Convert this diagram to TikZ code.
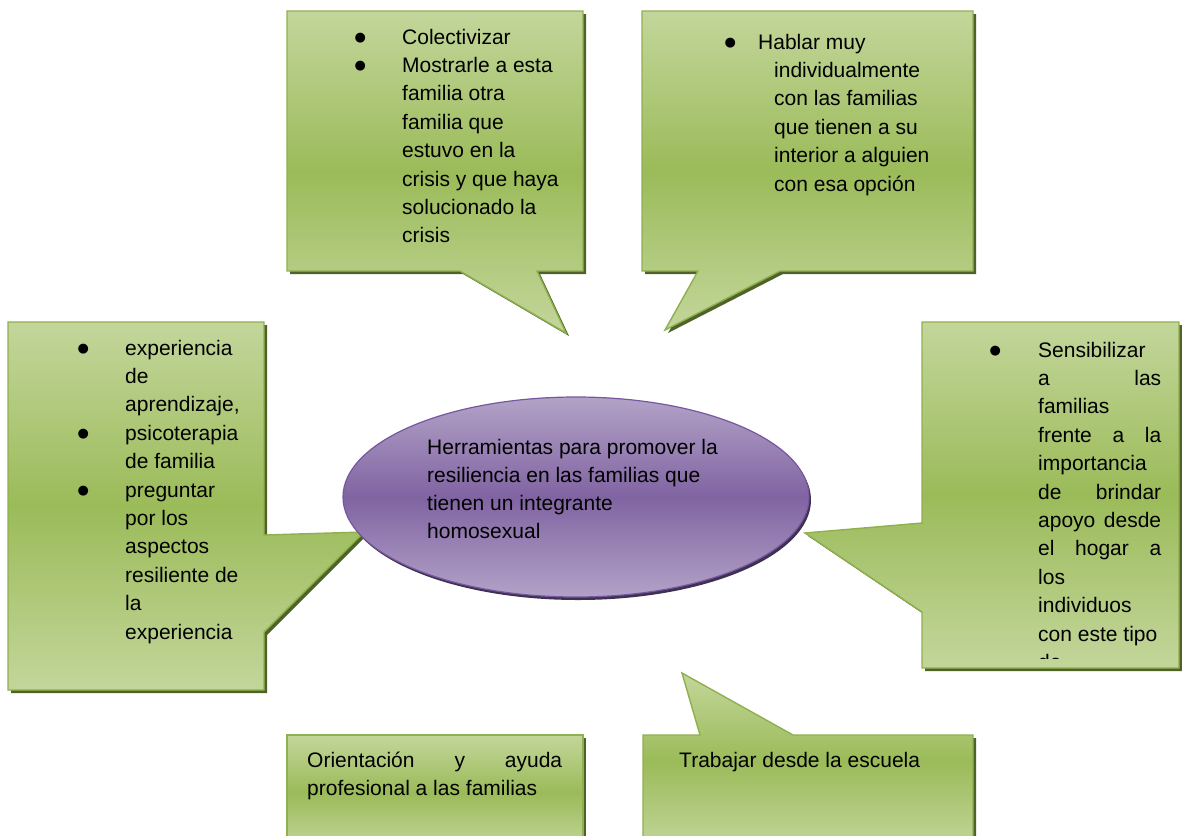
\documentclass[tikz,border=0pt]{standalone}
\usepackage{fontspec}
\setmainfont{Liberation Sans}
\newfontfamily\bulfont{DejaVu Sans}
\usetikzlibrary{shapes.geometric}
\definecolor{gLight}{HTML}{C3D69B}
\definecolor{gDark}{HTML}{9BBB59}
\definecolor{gEdge}{HTML}{8FB04F}
\definecolor{gShadow}{HTML}{4F6228}
\definecolor{pLight}{HTML}{B3A2C7}
\definecolor{pDark}{HTML}{8064A2}
\definecolor{pEdge}{HTML}{7657A0}
\definecolor{pShadow}{HTML}{3F3151}
\tikzset{
  cbody/.style={draw=gEdge, line width=1.4pt, line join=miter, top color=gLight, bottom color=gLight, middle color=gDark},
  cshadow/.style={fill=gShadow, shift={(3,3)}},
  ctext/.style={anchor=base west, inner sep=0pt, font=\fontsize{21}{28.4}\selectfont},
}
\newcommand{\calloutshape}[1]{\fill[cshadow] #1; \shadedraw[cbody] #1;}
\newcommand{\bul}[1]{\leavevmode\llap{\makebox[#1][l]{\makebox[0pt][c]{\raisebox{2.5pt}{\bulfont\fontsize{13}{13}\selectfont ●}}}}}
\begin{document}
\begin{tikzpicture}[x=1pt,y=-1pt]
\useasboundingbox (0,0) rectangle (1182,835);
% callouts
\calloutshape{(287,11) -- (583,11) -- (583,271) -- (537,271) -- (566,333) -- (460,271) -- (287,271) -- cycle}
\calloutshape{(642,11) -- (973,11) -- (973,271) -- (780,271) -- (665,330) -- (698,271) -- (642,271) -- cycle}
\calloutshape{(8,322) -- (264,322) -- (264,535) -- (364,532) -- (264,632) -- (264,690) -- (8,690) -- cycle}
\calloutshape{(922,322) -- (1179,322) -- (1179,668) -- (922,668) -- (922,612) -- (805,533) -- (922,523) -- cycle}
\calloutshape{(287,735) -- (583,735) -- (583,850) -- (287,850) -- cycle}
\calloutshape{(643,735) -- (700,735) -- (682,673) -- (793,735) -- (973,735) -- (973,850) -- (643,850) -- cycle}
% central ellipse
\node[ellipse, minimum width=466pt, minimum height=200pt, inner sep=0pt, fill=pShadow] (hubshadow) at (578,500) {};
\node[ellipse, minimum width=466pt, minimum height=200pt, inner sep=0pt, draw=pEdge, line width=1.2pt,
      top color=pLight, bottom color=pLight, middle color=pDark] (hub) at (576,497) {};
\node[ctext] (hubtext) at (427,454) {\parbox[t]{320pt}{\fontsize{21}{28}\selectfont
  Herramientas para promover la\\ resiliencia en las familias que\\ tienen un integrante\\ homosexual}};
% texts
\node[ctext] (t1) at (402,44) {\parbox[t]{200pt}{\bul{42pt}Colectivizar\\
  \bul{42pt}Mostrarle a esta\\ familia otra\\ familia que\\ estuvo en la\\ crisis y que haya\\ solucionado la\\ crisis}};
\node[ctext] (t2) at (758,49) {\parbox[t]{220pt}{\bul{28pt}Hablar muy\\
  \hspace*{16pt}individualmente\\ \hspace*{16pt}con las familias\\ \hspace*{16pt}que tienen a su\\
  \hspace*{16pt}interior a alguien\\ \hspace*{16pt}con esa opción}};
\node[ctext] (t3) at (125,355) {\parbox[t]{200pt}{\bul{42pt}experiencia\\ de\\ aprendizaje,\\
  \bul{42pt}psicoterapia\\ de familia\\ \bul{42pt}preguntar\\ por los\\ aspectos\\ resiliente de\\ la\\ experiencia}};
\begin{scope}
\clip (922,322) rectangle (1179,658);
\node[ctext] (t4) at (1038,357) {\parbox[t]{140pt}{\bul{43pt}Sensibilizar\\
  \makebox[123pt][s]{a las}\\ familias\\ \makebox[123pt][s]{frente a la}\\ importancia\\
  \makebox[123pt][s]{de brindar}\\ \makebox[123pt][s]{apoyo desde}\\ \makebox[123pt][s]{el hogar a}\\
  los\\ individuos\\ con este tipo\\ de}};
\end{scope}
\node[ctext] (t5) at (307,767) {\parbox[t]{260pt}{\makebox[255pt][s]{Orientación y ayuda}\\ profesional a las familias}};
\node[ctext] (t6) at (679,767) {Trabajar desde la escuela};
\end{tikzpicture}
\end{document}
